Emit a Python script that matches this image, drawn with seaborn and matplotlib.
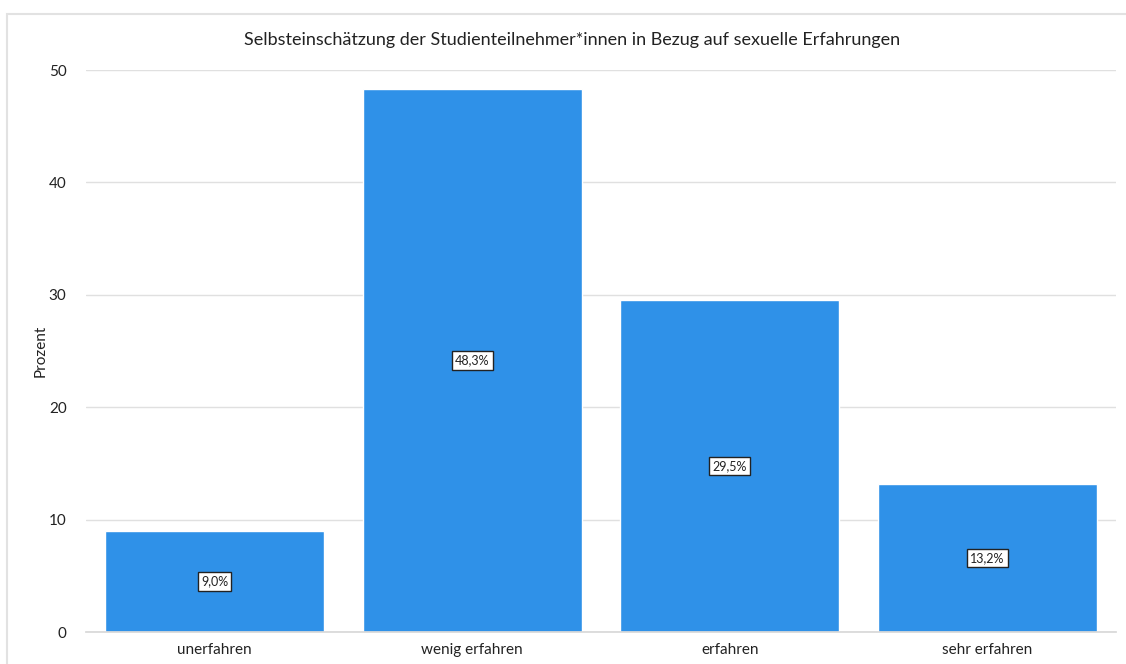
import matplotlib
matplotlib.use("Agg")
import matplotlib.pyplot as plt
import seaborn as sns
import pandas as pd
from matplotlib.patches import Rectangle

categories = ["unerfahren", "wenig erfahren", "erfahren", "sehr erfahren"]
values = [9.0, 48.3, 29.5, 13.2]
labels = ["9,0%", "48,3%", "29,5%", "13,2%"]
title = "Selbsteinschätzung der Studienteilnehmer*innen in Bezug auf sexuelle Erfahrungen"

sns.set_theme(style="white")
plt.rcParams["font.family"] = ["Lato", "DejaVu Sans"]

df = pd.DataFrame({"cat": categories, "val": values})

fig = plt.figure(figsize=(11.26, 6.64), dpi=100)
ax = fig.add_axes([86/1126, 1-632/664, (1116-86)/1126, (632-70)/664])

sns.barplot(data=df, x="cat", y="val", color="#2f91e8", saturation=1, width=0.85, ax=ax, zorder=2)

ax.set_ylim(0, 50)
ax.set_xlim(-0.5, 3.5)
ax.set_yticks([0, 10, 20, 30, 40, 50])
ax.yaxis.grid(True, color="#e0e0e0", linewidth=1, zorder=0)
ax.set_axisbelow(True)
for s in ["top", "right", "left"]:
    ax.spines[s].set_visible(False)
ax.spines["bottom"].set_color("#d8d8d8")
ax.tick_params(axis="both", length=0, labelsize=11, colors="#222222")
ax.tick_params(axis="y", pad=14)
ax.tick_params(axis="x", pad=8)
ax.set_xlabel("")
ax.set_ylabel("Prozent", fontsize=11, color="#222222")
ax.yaxis.set_label_coords((48 - 86) / 1030, 0.5)

for i, (v, lab) in enumerate(zip(values, labels)):
    ax.text(i, v / 2, lab, ha="center", va="center", fontsize=9, color="#222222",
            bbox=dict(boxstyle="square,pad=0.25", facecolor="white", edgecolor="#222222", linewidth=1),
            zorder=5)

fig.text(572/1126, 1-40/664, title, ha="center", va="center", fontsize=13, color="#222222")

fig.patches.append(Rectangle((7/1126, -0.1), 1.2, 1-14/664+0.1, transform=fig.transFigure,
                             fill=False, edgecolor="#e2e2e2", linewidth=1.5))

fig.savefig("out.png", dpi=100)
